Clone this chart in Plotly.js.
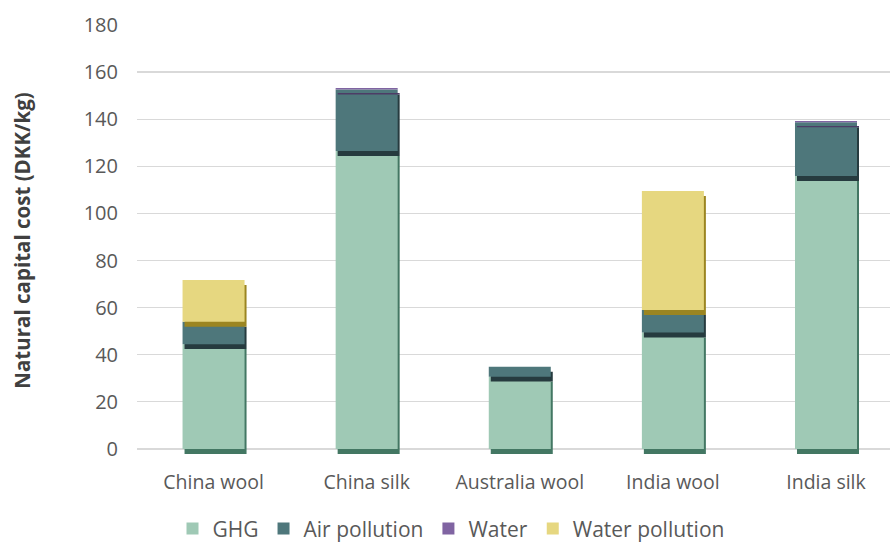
<!DOCTYPE html>
<html>
<head>
<meta charset="utf-8">
<script src="https://cdn.plot.ly/plotly-3.0.1.min.js"></script>
<style>html,body{margin:0;padding:0;background:#fff;overflow:hidden;}#chart{width:890px;height:554px;}</style>
</head>
<body>
<div id="chart"></div>
<script>
const categories = ["China wool", "China silk", "Australia wool", "India wool", "India silk"];
const ghg = [44.5, 126.5, 30.7, 49.4, 115.9];
const airPollution = [9.5, 26.1, 4.2, 9.6, 22.8];
const water = [0, 0.6, 0, 0, 0.5];
const waterPollution = [17.7, 0, 0, 50.5, 0];
const yTicks = [0, 20, 40, 60, 80, 100, 120, 140, 160, 180];

const seriesNames = ["GHG", "Air pollution", "Water", "Water pollution"];
const seriesValues = [ghg, airPollution, water, waterPollution];
const seriesColors = ["#9fc9b5", "#4e777b", "#8064a2", "#e6d780"];
const shadowColors = ["#437763", "#263b3f", "#4d3c66", "#9b8521"];

const barWidth = 0.405;
const shadowDx = 0.013;   // ~2px
const shadowDy = 2.12;    // ~5px in data units

const traces = [];
let cumulative = categories.map(() => 0);
seriesValues.forEach((vals, i) => {
  const bases = cumulative.slice();
  traces.push({
    type: "bar", x: categories, y: vals, base: bases.map(b => b - shadowDy),
    width: barWidth, offset: -barWidth / 2 + shadowDx,
    marker: {color: shadowColors[i], line: {width: 0}},
    showlegend: false, hoverinfo: "skip"
  });
  traces.push({
    type: "bar", name: seriesNames[i], x: categories, y: vals, base: bases,
    width: barWidth, offset: -barWidth / 2,
    marker: {color: seriesColors[i], line: {width: 0}},
    hoverinfo: "skip"
  });
  cumulative = cumulative.map((c, j) => c + vals[j]);
});

const font = "'Open Sans', 'Noto Sans', sans-serif";
const layout = {
  width: 890, height: 554,
  margin: {l: 137, r: 0, t: 25, b: 98},
  paper_bgcolor: "#ffffff", plot_bgcolor: "#ffffff",
  barmode: "overlay",
  font: {family: font, color: "#595959", size: 19.5},
  xaxis: {
    type: "category", range: [-0.5, 4.418],
    showgrid: false, zeroline: false, showline: false,
    ticks: "", ticklabelstandoff: 12,
    tickfont: {size: 19.5, color: "#595959"}
  },
  yaxis: {
    range: [-3, 180], tickvals: yTicks, ticktext: yTicks.map(String),
    showgrid: true, gridcolor: "#d9d9d9", gridwidth: 1.3,
    zeroline: false, showline: false, ticks: "",
    ticklabelstandoff: 18,
    tickfont: {size: 20, color: "#595959"},
    title: {text: "Natural capital cost (DKK/kg)", font: {size: 20.5, color: "#404040", family: font, weight: "bold"}, standoff: 47}
  },
  legend: {
    orientation: "h", x: 0.417, xanchor: "center", xref: "paper",
    y: -0.169, yanchor: "middle",
    font: {size: 21, color: "#595959"},
    traceorder: "normal", itemwidth: 30
  },
  showlegend: true
};

Plotly.newPlot("chart", traces, layout, {displayModeBar: false, staticPlot: true});
</script>
</body>
</html>
